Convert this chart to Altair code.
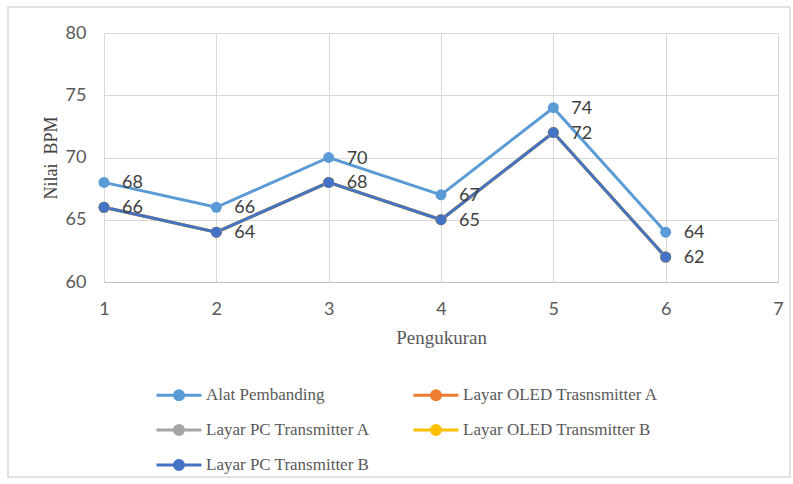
import altair as alt
import pandas as pd

# Measurement number (x) and BPM readings per device
pengukuran = [1, 2, 3, 4, 5, 6]
alat_pembanding = [68, 66, 70, 67, 74, 64]
layar_oled_a = [66, 64, 68, 65, 72, 62]
layar_pc_a = [66, 64, 68, 65, 72, 62]
layar_oled_b = [66, 64, 68, 65, 72, 62]
layar_pc_b = [66, 64, 68, 65, 72, 62]

series_names = [
    "Alat Pembanding",
    "Layar OLED Trasnsmitter A",
    "Layar PC Transmitter A",
    "Layar OLED Transmitter B",
    "Layar PC Transmitter B",
]
series_values = [alat_pembanding, layar_oled_a, layar_pc_a, layar_oled_b, layar_pc_b]
series_colors = ["#5b9bd5", "#ed7d31", "#a5a5a5", "#ffc000", "#4472c4"]
labelled = {"Alat Pembanding", "Layar PC Transmitter B"}

rows = []
for k, (name, vals) in enumerate(zip(series_names, series_values)):
    for x, v in zip(pengukuran, vals):
        rows.append({"Pengukuran": x, "BPM": v, "Seri": name, "urut": k,
                     "label": name in labelled})
df = pd.DataFrame(rows)

W, H = 674, 249
TICK_FONT = "Lato"
SERIF = "Liberation Serif"

# legend swatch: a short line with a dot in the middle
SWATCH = "M-1,0L1,0M0.2,0A0.2,0.2 0 1,1 -0.2,0A0.2,0.2 0 1,1 0.2,0Z"

color = alt.Color(
    "Seri:N",
    scale=alt.Scale(domain=series_names, range=series_colors),
    legend=alt.Legend(
        title=None,
        orient="none",
        direction="horizontal",
        legendX=51,
        legendY=338,
        columns=2,
        columnPadding=36,
        rowPadding=-2,
        symbolType=SWATCH,
        symbolSize=2025,
        symbolStrokeWidth=3,
        labelFont=SERIF,
        labelFontSize=17,
        labelColor="#595959",
        labelOffset=3,
        labelLimit=300,
    ),
)

x_enc = alt.X(
    "Pengukuran:Q",
    scale=alt.Scale(domain=[1, 7], nice=False),
    axis=alt.Axis(
        values=[1, 2, 3, 4, 5, 6, 7],
        format="d",
        title="Pengukuran",
        titleFont=SERIF,
        titleFontSize=19,
        titleFontWeight="normal",
        titleColor="#595959",
        titlePadding=10,
        labelFont=TICK_FONT,
        labelFontSize=18,
        labelColor="#595959",
        labelPadding=18,
        labelFlush=False,
        ticks=False,
        domainColor="#bfbfbf",
        gridColor="#d9d9d9",
    ),
)
y_enc = alt.Y(
    "BPM:Q",
    scale=alt.Scale(domain=[60, 80], nice=False, zero=False),
    axis=alt.Axis(
        values=[60, 65, 70, 75, 80],
        title="Nilai\u00a0\u00a0BPM",
        titleFont=SERIF,
        titleFontSize=18,
        titleFontWeight="normal",
        titleColor="#404040",
        titlePadding=5,
        labelFont=TICK_FONT,
        labelFontSize=18,
        labelColor="#595959",
        labelPadding=18,
        labelFlush=False,
        ticks=False,
        domain=False,
        gridColor="#d9d9d9",
    ),
)

base = alt.Chart(df)

lines = base.mark_line(strokeWidth=3).encode(
    x=x_enc, y=y_enc, color=color, order=alt.Order("urut:Q"),
    detail="Seri:N",
)
points = base.mark_point(filled=True, size=120, opacity=1).encode(
    x="Pengukuran:Q", y="BPM:Q", color=color, order=alt.Order("urut:Q"),
)
labels = base.transform_filter("datum.label").mark_text(
    align="left", baseline="middle", dx=18, dy=1, font=TICK_FONT, fontSize=18,
    color="#404040",
).encode(x="Pengukuran:Q", y="BPM:Q", text="BPM:Q")

# thin frame around the whole figure
frame = alt.Chart(pd.DataFrame({"f": [0]})).mark_rect(
    fill=None, stroke="#d9d9d9", strokeWidth=1.5, clip=False
).encode(
    x=alt.value(-96), x2=alt.value(W + 12), y=alt.value(-26), y2=alt.value(H + 195)
)

chart = alt.layer(frame, lines, points, labels).properties(
    width=W, height=H,
    autosize=alt.AutoSizeParams(type="none"),
    padding={"left": 104, "top": 33, "right": 15, "bottom": 202},
    background="white",
).configure_view(stroke=None)

chart.save("out.html", embed_options={"renderer": "svg", "actions": False})
